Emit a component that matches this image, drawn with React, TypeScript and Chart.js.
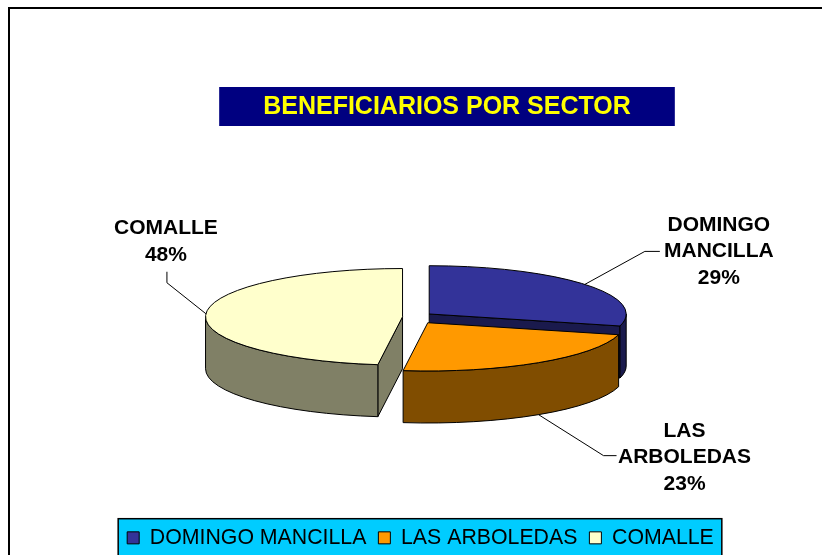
import React, { useEffect, useRef } from 'react';
import { Chart, registerables } from 'chart.js';

Chart.register(...registerables);

// ---- data ----
const TITLE = 'BENEFICIARIOS POR SECTOR';
const SECTORS = ['DOMINGO MANCILLA', 'LAS ARBOLEDAS', 'COMALLE'];
const PERCENTS = [29, 23, 48];
const TOP_COLORS = ['#333399', '#FF9900', '#FFFFCC'];
const EXPLODE = [11, 13, 18];

// ---- style ----
const FONT = 'Arial, "Liberation Sans", Helvetica, sans-serif';
const TILT = 0.245;
const DEPTH_RATIO = 0.264;
const EXPLODE_V = 0.5;
const LABEL_LINE_H = 26.5;
const TITLE_POS = { x: 447, y: 106.5, padX: 44, h: 39 };
const LABEL_LAYOUT = [
  { from: 'top', elbow: [60, -33], end: [75, -33], text: [134, -33], refLine: 1 },
  { from: 'bottom', elbow: [65, 41], end: [78, 41], text: [146, 43], refLine: 1 },
  { from: 'top', elbow: [-39, -31], end: [-39, -42], text: [-40, -59], refLine: 1 },
];

function darken(hex: string, f = 0.5) {
  const n = parseInt(hex.slice(1), 16);
  const r = Math.round(((n >> 16) & 255) * f);
  const g = Math.round(((n >> 8) & 255) * f);
  const b = Math.round((n & 255) * f);
  return `rgb(${r},${g},${b})`;
}

const pie3d = {
  id: 'pie3d',
  beforeDraw(chart: any) {
    const ctx = chart.ctx as CanvasRenderingContext2D;
    ctx.save();
    ctx.fillStyle = '#fff';
    ctx.fillRect(0, 0, chart.width, chart.height);
    // outer frame
    ctx.strokeStyle = '#000';
    ctx.lineWidth = 2;
    ctx.beginPath();
    ctx.moveTo(9, chart.height + 5);
    ctx.lineTo(9, 8);
    ctx.lineTo(chart.width + 5, 8);
    ctx.stroke();
    // title
    ctx.font = `bold 25px ${FONT}`;
    const tw = ctx.measureText(TITLE).width;
    ctx.fillStyle = '#000080';
    ctx.fillRect(TITLE_POS.x - tw / 2 - TITLE_POS.padX, TITLE_POS.y - TITLE_POS.h / 2, tw + 2 * TITLE_POS.padX, TITLE_POS.h);
    ctx.fillStyle = '#FFFF00';
    ctx.textAlign = 'center';
    ctx.textBaseline = 'middle';
    ctx.fillText(TITLE, TITLE_POS.x, TITLE_POS.y + 1);
    // legend background
    const lg = chart.legend;
    const hb = lg && lg.legendHitBoxes;
    if (hb && hb.length) {
      const x0 = hb[0].left - 9;
      const last = hb[hb.length - 1];
      const x1 = last.left + last.width + 8;
      const y0 = hb[0].top - 8.5;
      ctx.fillStyle = '#00CCFF';
      ctx.fillRect(x0, y0, x1 - x0, chart.height);
      ctx.lineWidth = 1.5;
      ctx.strokeStyle = '#000';
      ctx.strokeRect(x0, y0, x1 - x0, chart.height);
    }
    ctx.restore();
  },
  beforeDatasetsDraw(chart: any) {
    const ctx = chart.ctx as CanvasRenderingContext2D;
    const meta = chart.getDatasetMeta(0);
    const data = chart.data.datasets[0].data as number[];
    const total = data.reduce((s, v) => s + v, 0);
    const slices = meta.data.map((arc: any, i: number) => {
      const p = arc.getProps(['x', 'y', 'startAngle', 'endAngle', 'outerRadius'], true);
      const off = arc.options.offset || 0;
      const mid = (p.startAngle + p.endAngle) / 2;
      const a = p.outerRadius;
      const top = arc.options.backgroundColor as string;
      return {
        i, s: p.startAngle, e: p.endAngle, mid, a, b: a * TILT, d: a * DEPTH_RATIO,
        ox: p.x + off * Math.cos(mid), oy: p.y + off * Math.sin(mid) * EXPLODE_V,
        top, side: darken(top),
      };
    });
    ctx.save();
    ctx.lineWidth = 1;
    ctx.strokeStyle = '#000';
    ctx.lineJoin = 'round';
    const pt = (sl: any, t: number, dz = 0) => [sl.ox + sl.a * Math.cos(t), sl.oy + sl.b * Math.sin(t) + dz];
    const face = (sl: any, t: number) => {
      const [x, y] = pt(sl, t);
      ctx.beginPath();
      ctx.moveTo(sl.ox, sl.oy);
      ctx.lineTo(x, y);
      ctx.lineTo(x, y + sl.d);
      ctx.lineTo(sl.ox, sl.oy + sl.d);
      ctx.closePath();
      ctx.fillStyle = sl.side;
      ctx.fill();
      ctx.stroke();
    };
    const order = [...slices].sort((p, q) => Math.sin(p.mid) - Math.sin(q.mid));
    for (const sl of order) {
      if (Math.cos(sl.s) < 0) face(sl, sl.s);
      if (Math.cos(sl.e) > 0) face(sl, sl.e);
      for (const [lo, hi] of [[0, Math.PI], [2 * Math.PI, 3 * Math.PI], [-2 * Math.PI, -Math.PI]]) {
        const t1 = Math.max(sl.s, lo);
        const t2 = Math.min(sl.e, hi);
        if (t2 <= t1) continue;
        ctx.beginPath();
        ctx.ellipse(sl.ox, sl.oy, sl.a, sl.b, 0, t1, t2);
        ctx.ellipse(sl.ox, sl.oy + sl.d, sl.a, sl.b, 0, t2, t1, true);
        ctx.closePath();
        ctx.fillStyle = sl.side;
        ctx.fill();
        ctx.stroke();
      }
    }
    for (const sl of order) {
      ctx.beginPath();
      ctx.moveTo(sl.ox, sl.oy);
      ctx.ellipse(sl.ox, sl.oy, sl.a, sl.b, 0, sl.s, sl.e);
      ctx.closePath();
      ctx.fillStyle = sl.top;
      ctx.fill();
      ctx.stroke();
    }
    // labels with leader lines
    ctx.font = `bold 21px ${FONT}`;
    ctx.textAlign = 'center';
    ctx.textBaseline = 'middle';
    for (const sl of slices) {
      const lay = LABEL_LAYOUT[sl.i];
      const [ax, ay] = pt(sl, sl.mid, lay.from === 'bottom' ? sl.d : 0);
      ctx.beginPath();
      ctx.moveTo(ax, ay);
      ctx.lineTo(ax + lay.elbow[0], ay + lay.elbow[1]);
      ctx.lineTo(ax + lay.end[0], ay + lay.end[1]);
      ctx.strokeStyle = '#000';
      ctx.stroke();
      const label = chart.data.labels[sl.i] as string;
      const lines = [...label.split(' '), `${Math.round((data[sl.i] / total) * 100)}%`];
      ctx.fillStyle = '#000';
      lines.forEach((ln, k) => {
        ctx.fillText(ln, ax + lay.text[0], ay + lay.text[1] + (k - lay.refLine) * LABEL_LINE_H);
      });
    }
    ctx.restore();
    return false;
  },
};

export default function App() {
  const ref = useRef<HTMLCanvasElement>(null);
  useEffect(() => {
    const chart = new Chart(ref.current as HTMLCanvasElement, {
      type: 'pie',
      data: {
        labels: SECTORS,
        datasets: [
          {
            data: PERCENTS,
            backgroundColor: TOP_COLORS,
            borderColor: '#000',
            borderWidth: 1,
            offset: EXPLODE,
          } as any,
        ],
      },
      options: {
        responsive: false,
        animation: false,
        radius: 197,
        events: [],
        layout: { padding: { left: 19, right: 0, top: 119.5, bottom: -3.5 } },
        plugins: {
          title: { display: false },
          tooltip: { enabled: false },
          legend: {
            position: 'bottom',
            labels: {
              boxWidth: 12,
              boxHeight: 12,
              padding: 12,
              color: '#000',
              font: { family: FONT, size: 21.3 },
            },
          },
        },
      } as any,
      plugins: [pie3d],
    });
    return () => chart.destroy();
  }, []);
  return (
    <div style={{ position: 'fixed', left: 0, top: 0, width: 822, height: 555 }}>
      <canvas ref={ref} width={822} height={555} />
    </div>
  );
}
